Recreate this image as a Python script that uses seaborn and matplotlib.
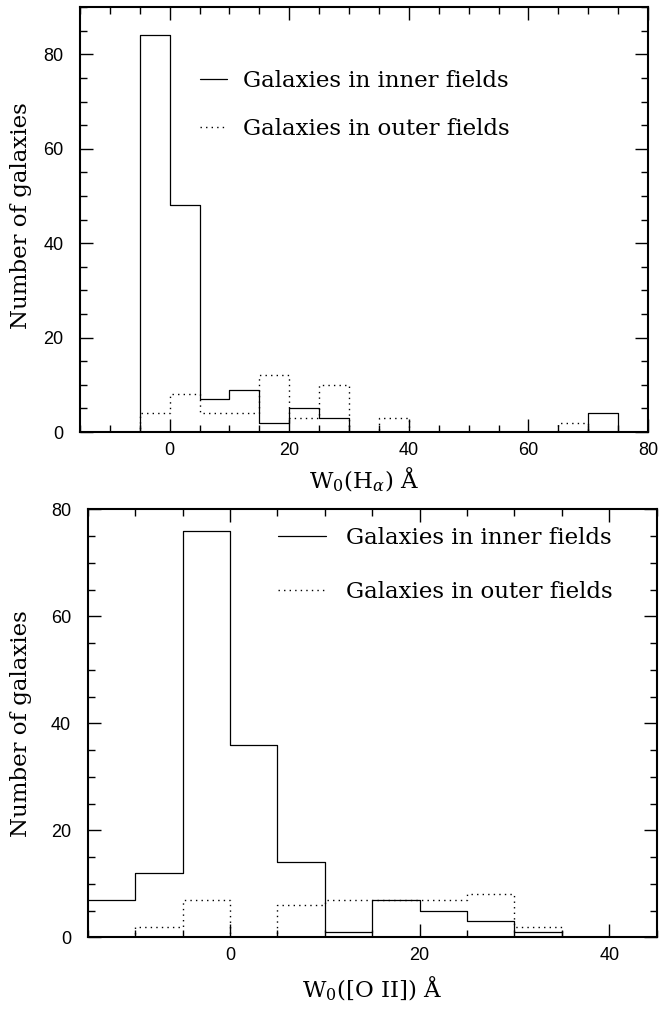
import numpy as np
import pandas as pd
import matplotlib
matplotlib.use("Agg")
import matplotlib.pyplot as plt
from matplotlib.ticker import MultipleLocator
import seaborn as sns

# W0(H_alpha) histograms, 5 A bins (empty bins at both ends)
ha_edges = list(range(-10, 85, 5))
ha_inner = [0, 84, 48, 7, 9, 2, 5, 3, 0, 0, 0, 0, 0, 0, 0, 0, 4, 0]
ha_outer = [0, 4, 8, 4, 4, 12, 3, 10, 0, 3, 0, 0, 0, 0, 0, 2, 0, 0]

# W0([O II]) histograms, 5 A bins starting at -15
oii_edges = list(range(-15, 45, 5))
oii_inner = [7, 12, 76, 36, 14, 1, 7, 5, 3, 1, 0]
oii_outer = [0, 2, 7, 0, 6, 7, 7, 7, 8, 2, 0]

labels = ["Galaxies in inner fields", "Galaxies in outer fields"]

sns.set_style("ticks")
plt.rcParams["font.family"] = ["DejaVu Serif"]
plt.rcParams["mathtext.fontset"] = "dejavuserif"
plt.rcParams["text.color"] = "black"
plt.rcParams["axes.labelcolor"] = "black"
plt.rcParams["xtick.color"] = "black"
plt.rcParams["ytick.color"] = "black"

fig = plt.figure(figsize=(6.6, 10.09), dpi=100)
ax1 = fig.add_axes([0.1212, 0.5718, 0.8606, 0.4212])
ax2 = fig.add_axes([0.1329, 0.0711, 0.8621, 0.4240])


def draw(ax, edges, inner, outer):
    centers = np.array(edges[:-1]) + 2.5
    df = pd.DataFrame({"w": centers, "inner": inner, "outer": outer})
    sns.histplot(data=df, x="w", weights="inner", bins=edges, element="step",
                 fill=False, color="black", linewidth=0.9, ax=ax,
                 label=labels[0])
    sns.histplot(data=df, x="w", weights="outer", bins=edges, element="step",
                 fill=False, color="black", linewidth=1.0,
                 linestyle=(0, (1, 3)), ax=ax, label=labels[1])


draw(ax1, ha_edges, ha_inner, ha_outer)
draw(ax2, oii_edges, oii_inner, oii_outer)

ax1.set_xlim(-15, 80)
ax1.set_ylim(0, 90)
ax2.set_xlim(-15, 45)
ax2.set_ylim(0, 80)

for ax in (ax1, ax2):
    ax.xaxis.set_major_locator(MultipleLocator(20))
    ax.xaxis.set_minor_locator(MultipleLocator(5))
    ax.yaxis.set_major_locator(MultipleLocator(20))
    ax.yaxis.set_minor_locator(MultipleLocator(5))
    ax.tick_params(which="both", direction="in", top=True, right=True,
                   width=1.0, color="black", labelcolor="black")
    ax.tick_params(which="major", length=9.4)
    ax.tick_params(which="minor", length=4.8)
    ax.tick_params(axis="x", which="major", pad=7)
    ax.tick_params(axis="y", which="major", pad=12)
    for lab in ax.get_xticklabels() + ax.get_yticklabels():
        lab.set_family("Liberation Sans")
        lab.set_fontsize(13)
    for s in ax.spines.values():
        s.set_linewidth(1.5)
        s.set_color("black")
    ax.set_ylabel("Number of galaxies", fontsize=16.5)

ax1.yaxis.set_label_coords(-0.085, 0.51)
ax2.yaxis.set_label_coords(-0.098, 0.5)

ax1.set_xlabel(r"W$_0$(H$_\alpha$) Å", fontsize=16.5, labelpad=5)
ax2.set_xlabel(r"W$_0$([O II]) Å", fontsize=16.5, labelpad=8)

ax1.legend(loc="upper left", bbox_to_anchor=(0.211, 0.851), frameon=False,
           fontsize=16.5, handlelength=1.18, handletextpad=0.70,
           labelspacing=1.13, borderpad=0, borderaxespad=0)
ax2.legend(loc="upper left", bbox_to_anchor=(0.334, 0.958), frameon=False,
           fontsize=16.5, handlelength=2.1, handletextpad=0.87,
           labelspacing=1.40, borderpad=0, borderaxespad=0)

fig.savefig("out.png", dpi=100)
